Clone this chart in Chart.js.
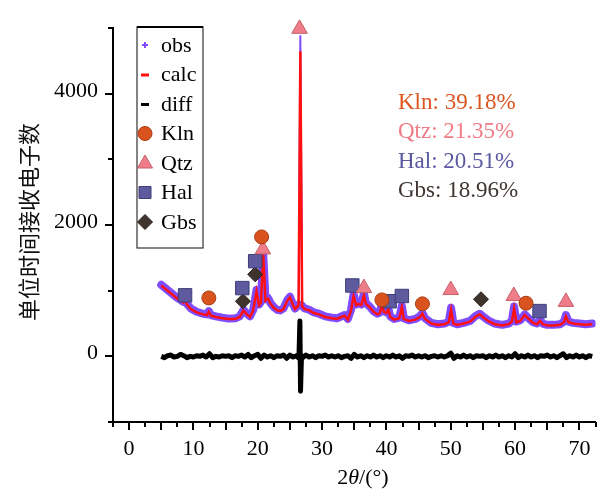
<!DOCTYPE html>
<html>
<head>
<meta charset="utf-8">
<script src="https://cdn.jsdelivr.net/npm/chart.js@4/dist/chart.umd.min.js"></script>
<style>
  html, body { margin: 0; padding: 0; background: #fff; }
  #wrap { width: 606px; height: 492px; position: relative; }
</style>
</head>
<body>
<div id="wrap"><canvas id="grafico"></canvas></div>
<script>
// perfil calculado / observado (2theta en grados, cuentas)
const angles = [5.0, 5.5, 6.0, 6.5, 7.0, 7.5, 8.0, 8.4, 8.7, 9.0, 9.6, 10.5, 11.5, 12.1, 12.4, 12.7, 13.5, 14.5, 15.5, 16.5,
  17.2, 17.8, 18.3, 18.8, 19.3, 19.8, 20.2, 20.5, 20.85, 21.2, 21.6, 22.0, 22.5, 23.0, 23.5, 24.0, 24.6, 25.0, 25.4, 25.8,
  26.35, 26.62, 26.9, 27.3, 28.0, 28.7, 29.5, 30.5, 31.5, 32.3, 33.0, 33.5, 34.0, 34.5, 34.9, 35.3, 35.7, 36.1, 36.5, 36.8,
  37.3, 38.0, 38.6, 39.0, 39.3, 39.6, 40.0, 40.3, 40.6, 41.2, 42.0, 42.4, 42.7, 43.5, 44.5, 45.2, 45.6, 46.0, 47.0, 48.0,
  49.0, 49.7, 50.05, 50.4, 51.0, 52.0, 53.0, 53.8, 54.5, 55.0, 55.8, 56.8, 58.0, 59.0, 59.5, 59.85, 60.2, 60.8, 61.5, 62.0,
  62.8, 63.4, 63.9, 64.3, 65.0, 66.0, 67.0, 67.6, 67.9, 68.3, 69.0, 70.0, 71.0, 72.0]
const calcCounts = [1080, 1040, 1000, 960, 920, 880, 850, 820, 860, 790, 720, 670, 640, 630, 680, 620, 600, 580, 570, 570,
  600, 700, 640, 600, 700, 990, 780, 820, 1550, 850, 880, 800, 740, 700, 690, 720, 850, 900, 800, 720,
  780, 4650, 760, 720, 700, 660, 640, 600, 580, 570, 600, 620, 560, 700, 920, 780, 800, 780, 930, 800,
  760, 680, 640, 660, 790, 680, 660, 720, 600, 560, 580, 750, 570, 540, 560, 600, 650, 570, 500, 480,
  490, 520, 710, 500, 480, 500, 530, 600, 640, 600, 540, 490, 470, 490, 530, 730, 520, 540, 630, 580,
  510, 490, 540, 490, 470, 470, 480, 520, 610, 520, 500, 490, 480, 490]
const obsCounts = [1090, 1050, 1010, 970, 930, 890, 860, 830, 870, 800, 730, 680, 650, 640, 690, 630, 610, 590, 575, 580,
  610, 710, 650, 610, 710, 1010, 790, 830, 1570, 870, 890, 810, 750, 710, 700, 730, 860, 910, 810, 730,
  790, 4880, 770, 730, 710, 670, 650, 610, 590, 580, 610, 630, 570, 710, 950, 790, 810, 790, 960, 810,
  770, 690, 650, 670, 810, 690, 670, 730, 610, 570, 590, 770, 580, 550, 570, 610, 660, 580, 510, 490,
  500, 530, 740, 510, 490, 510, 540, 610, 650, 610, 550, 500, 480, 500, 540, 760, 530, 550, 640, 590,
  520, 500, 550, 500, 480, 480, 490, 530, 630, 530, 510, 500, 490, 500]

// diferencia obs - calc
const diffAngles = [5, 5.5, 6, 6.5, 7, 7.5, 8, 8.5, 9, 9.5, 10, 10.5, 11, 11.5, 12, 12.5, 13, 13.5, 14, 14.5,
  15, 15.5, 16, 16.5, 17, 17.5, 18, 18.5, 19, 19.5, 20, 20.5, 21, 21.5, 22, 22.5, 23, 23.5, 24, 24.5,
  25, 25.5, 26, 26.4, 26.55, 26.65, 26.8, 27, 27.5, 28, 28.5, 29, 29.5, 30, 30.5, 31, 31.5, 32, 32.5, 33,
  33.5, 34, 34.5, 35, 35.5, 36, 36.5, 37, 37.5, 38, 38.5, 39, 39.5, 40, 40.5, 41, 41.5, 42, 42.5, 43,
  43.5, 44, 44.5, 45, 45.5, 46, 46.5, 47, 47.5, 48, 48.5, 49, 49.5, 50, 50.5, 51, 51.5, 52, 52.5, 53,
  53.5, 54, 54.5, 55, 55.5, 56, 56.5, 57, 57.5, 58, 58.5, 59, 59.5, 60, 60.5, 61, 61.5, 62, 62.5, 63,
  63.5, 64, 64.5, 65, 65.5, 66, 66.5, 67, 67.5, 68, 68.5, 69, 69.5, 70, 70.5, 71, 71.5, 72]
const diffCounts = [0, -20, 10, 20, -10, 0, 30, 10, -20, 0, -10, 10, 0, 20, -10, 40, -20, 0, -10, 10,
  0, 10, -20, 10, 0, 20, -10, 30, -20, 10, 30, -30, 20, -10, 10, -20, 10, 0, 20, -30,
  20, -10, 10, -30, 540, -530, 10, -20, 20, -10, 10, -20, 10, 0, 20, -10, 10, -10, 10, -20,
  0, 10, -30, 30, -10, 10, -20, 10, -10, 20, -10, 10, -20, 10, -10, 20, -10, 10, -30, 10,
  0, 20, -10, 10, -10, 10, -20, 0, 10, -10, 10, -10, 10, 50, -30, 10, -10, 20, -10, 10,
  -20, 10, 0, 10, -20, 10, -10, 20, -10, 10, -20, 10, -10, 40, -20, 10, -10, 20, -10, 10,
  -20, 10, 0, 20, -10, 10, -20, 10, 40, -20, 10, -10, 20, -10, 10, -20, 10, 0]

// marcadores de fases
const klnAngles = [12.4, 20.6, 39.3, 45.6, 61.7]
const klnCounts = [890, 1820, 860, 800, 810]
const qtzAngles = [20.8, 26.5, 36.5, 50.0, 59.8, 67.9]
const qtzCounts = [1630, 4990, 1040, 1010, 920, 830]
const halAngles = [8.7, 17.6, 19.6, 34.7, 40.5, 42.4, 63.8]
const halCounts = [930, 1040, 1450, 1080, 840, 920, 690]
const gbsAngles = [17.7, 19.6, 54.7]
const gbsCounts = [840, 1250, 870]

// porcentajes de cada fase
const fases = ["Kln", "Qtz", "Hal", "Gbs"]
const porcentajes = [39.18, 21.35, 20.51, 18.96]

const xTicks = [0, 10, 20, 30, 40, 50, 60, 70]
const yTicks = [0, 2000, 4000]

const colores = {
  obs: "#7f4dff",
  calc: "#ff1010",
  diff: "#000000",
  Kln: "#d9531e",
  Qtz: "#ef7d89",
  Hal: "#5d5a9e",
  Gbs: "#3f332e"
}
const bordes = { Kln: "#a83c12", Qtz: "#c4606b", Hal: "#3f3d78", Gbs: "#2a201c" }
const textoFase = { Kln: "#dc551f", Qtz: "#f07b86", Hal: "#5b58a0", Gbs: "#3f3430" }

const FONT = "'Liberation Serif', 'Times New Roman', serif"

const toXY = (xs, ys) => xs.map((x, i) => ({ x: x, y: ys[i] }))

const marcador = (label, xs, ys, estilo, radio) => ({
  label: label,
  data: toXY(xs, ys),
  showLine: false,
  pointStyle: estilo,
  pointRadius: radio,
  pointBackgroundColor: colores[label],
  pointBorderColor: bordes[label],
  pointBorderWidth: 1,
  clip: false,
  order: 0
})

const datasets = [
  marcador("Kln", klnAngles, klnCounts, "circle", 7),
  marcador("Qtz", qtzAngles, qtzCounts, "triangle", 9),
  marcador("Hal", halAngles, halCounts, "rect", 9.5),
  marcador("Gbs", gbsAngles, gbsCounts, "rectRot", 7.5),
  {
    label: "calc",
    data: toXY(angles, calcCounts),
    showLine: true,
    borderColor: colores.calc,
    borderWidth: 2.5,
    pointRadius: 0,
    tension: 0,
    order: 1
  },
  {
    label: "obs",
    data: toXY(angles, obsCounts),
    showLine: true,
    borderColor: colores.obs,
    borderWidth: 8,
    borderJoinStyle: "round",
    borderCapStyle: "round",
    // el pico grande solo tiene unos pocos puntos observados
    segment: { borderWidth: c => (c.p0.parsed.y > 2000 || c.p1.parsed.y > 2000) ? 2 : 8 },
    pointRadius: 0,
    tension: 0,
    order: 2
  },
  {
    label: "diff",
    data: toXY(diffAngles, diffCounts),
    showLine: true,
    borderColor: colores.diff,
    borderWidth: 5,
    borderJoinStyle: "round",
    pointRadius: 0,
    tension: 0,
    order: 3
  }
]

// leyenda dentro del area, marcas de ejes, titulos y porcentajes
const extras = {
  id: "extras",
  afterDraw(chart) {
    const ctx = chart.ctx
    const xs = chart.scales.x
    const ys = chart.scales.y
    const area = chart.chartArea
    ctx.save()

    // marcas de los ejes
    ctx.strokeStyle = "#000"
    ctx.lineWidth = 2
    for (let v = -2.5; v <= 72.5; v += 2.5) {
      const px = Math.round(xs.getPixelForValue(v))
      const largo = (v % 5 === 0) ? 8 : 5
      ctx.beginPath()
      ctx.moveTo(px, area.bottom)
      ctx.lineTo(px, area.bottom + largo)
      ctx.stroke()
    }
    for (let v = -1000; v <= 5000; v += 1000) {
      const py = Math.round(ys.getPixelForValue(v))
      const largo = (v % 2000 === 0) ? 8 : 5
      ctx.beginPath()
      ctx.moveTo(area.left, py)
      ctx.lineTo(area.left - largo, py)
      ctx.stroke()
    }

    // leyenda
    const lx = 137, ly = 27, lw = 66, lh = 221
    ctx.fillStyle = "#fff"
    ctx.fillRect(lx, ly, lw, lh)
    ctx.strokeStyle = "#333"
    ctx.lineWidth = 1.2
    ctx.strokeRect(lx, ly, lw, lh)
    ctx.fillStyle = "#000"
    ctx.fillRect(lx, ly - 1, lw, 2)
    const items = [
      { t: "obs", s: "cross" }, { t: "calc", s: "dash" }, { t: "diff", s: "dash" },
      { t: "Kln", s: "circle" }, { t: "Qtz", s: "triangle" }, { t: "Hal", s: "rect" }, { t: "Gbs", s: "rectRot" }
    ]
    ctx.font = "22px " + FONT
    ctx.textBaseline = "middle"
    items.forEach((it, i) => {
      const cy = 45 + i * 29.5
      const cx = 145
      if (it.s === "cross") {
        ctx.strokeStyle = colores.obs
        ctx.lineWidth = 2
        ctx.beginPath()
        ctx.moveTo(cx - 3, cy); ctx.lineTo(cx + 3, cy)
        ctx.moveTo(cx, cy - 3); ctx.lineTo(cx, cy + 3)
        ctx.stroke()
      } else if (it.s === "dash") {
        ctx.fillStyle = colores[it.t]
        ctx.fillRect(cx - 4, cy - 1, 8, 3)
      } else {
        ctx.fillStyle = colores[it.t]
        ctx.strokeStyle = bordes[it.t]
        ctx.lineWidth = 1
        ctx.beginPath()
        if (it.s === "circle") {
          ctx.arc(cx, cy, 7, 0, Math.PI * 2)
        } else if (it.s === "triangle") {
          ctx.moveTo(cx, cy - 8); ctx.lineTo(cx + 7.5, cy + 5); ctx.lineTo(cx - 7.5, cy + 5); ctx.closePath()
        } else if (it.s === "rect") {
          ctx.rect(cx - 6, cy - 6, 12, 12)
        } else {
          ctx.moveTo(cx, cy - 7.5); ctx.lineTo(cx + 7.5, cy); ctx.lineTo(cx, cy + 7.5); ctx.lineTo(cx - 7.5, cy); ctx.closePath()
        }
        ctx.fill()
        ctx.stroke()
      }
      ctx.fillStyle = "#000"
      ctx.textAlign = "left"
      ctx.fillText(it.t, 161, cy + 1)
    })

    // porcentajes
    ctx.font = "23px " + FONT
    ctx.textAlign = "left"
    fases.forEach((f, i) => {
      ctx.fillStyle = textoFase[f]
      ctx.fillText(f + ": " + porcentajes[i].toFixed(2) + "%", 398, 103 + i * 29.3)
    })

    // titulo eje x: 2θ/(°)
    ctx.fillStyle = "#000"
    const partes = [["2", "22px " + FONT], ["θ", "italic 22px " + FONT], ["/(°)", "22px " + FONT]]
    let ancho = 0
    partes.forEach(p => { ctx.font = p[1]; ancho += ctx.measureText(p[0]).width })
    let x0 = 363 - ancho / 2
    partes.forEach(p => { ctx.font = p[1]; ctx.fillText(p[0], x0, 478); x0 += ctx.measureText(p[0]).width })

    // titulo eje y
    ctx.translate(29, 222)
    ctx.rotate(-Math.PI / 2)
    ctx.textAlign = "center"
    ctx.font = "22px 'Noto Sans CJK SC', sans-serif"
    ctx.fillStyle = "#111"
    ctx.fillText("单位时间接收电子数", 0, 0)
    ctx.restore()
  }
}

const config = {
  type: "scatter",
  data: { datasets: datasets },
  options: {
    responsive: false,
    animation: false,
    events: [],
    layout: { padding: { left: 0, right: 3, top: 20, bottom: 0 } },
    plugins: { legend: { display: false }, tooltip: { enabled: false } },
    scales: {
      x: {
        type: "linear",
        min: -2.5,
        max: 72.5,
        afterFit: s => { s.height = 70 },
        afterBuildTicks: s => { s.ticks = xTicks.map(v => ({ value: v })) },
        grid: { display: false, drawTicks: false },
        border: { display: true, color: "#000", width: 2 },
        ticks: { color: "#000", padding: 14, maxRotation: 0, font: { family: FONT, size: 22 }, callback: v => String(v) }
      },
      y: {
        type: "linear",
        min: -1000,
        max: 5000,
        afterFit: s => { s.width = 113 },
        afterBuildTicks: s => { s.ticks = yTicks.map(v => ({ value: v })) },
        grid: { display: false, drawTicks: false },
        border: { display: true, color: "#000", width: 2 },
        ticks: { color: "#000", padding: 15, labelOffset: -3, font: { family: FONT, size: 22 }, callback: v => String(v) }
      }
    }
  },
  plugins: [extras]
}

const canvas = document.getElementById("grafico")
canvas.width = 606
canvas.height = 492
const myChart = new Chart(canvas, config)
</script>
</body>
</html>
